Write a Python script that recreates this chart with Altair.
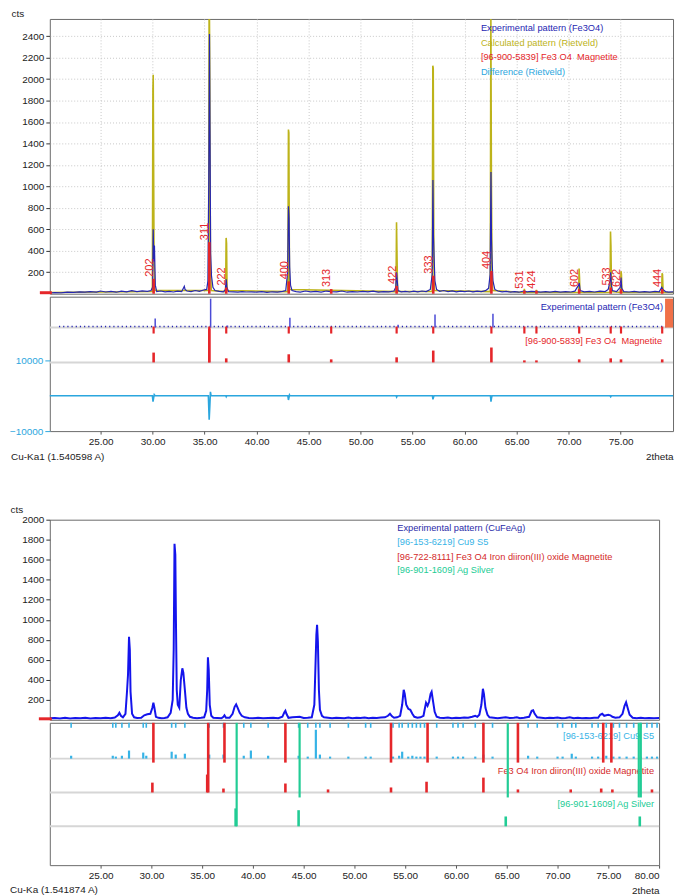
import altair as alt
import pandas as pd

# ---------------- data ----------------
# Top: Fe3O4 Rietveld refinement
TOP_EXP_X = [20.12, 20.6, 21.2, 21.8, 22.4, 23.0, 23.5, 24.0, 24.6, 25.0, 25.5, 26.0, 26.5, 27.0, 27.5, 28.0, 28.5, 29.0, 29.5, 29.85,
             30.0, 30.06, 30.12, 30.18, 30.26, 30.4, 30.8, 31.2, 31.6, 32.0, 32.4, 32.8, 33.05, 33.12, 33.3, 33.7, 34.1, 34.5, 34.9, 35.2,
             35.32, 35.40, 35.47, 35.52, 35.58, 35.66, 35.8, 36.0, 36.4, 36.8, 37.0, 37.08, 37.14, 37.3, 37.8, 38.2, 38.6, 39.0, 39.5, 40.0,
             40.5, 41.0, 41.5, 42.0, 42.5, 42.8, 42.98, 43.06, 43.12, 43.18, 43.26, 43.4, 43.8, 44.2, 44.7, 45.2, 45.7, 46.2, 46.7, 47.2,
             47.7, 48.2, 48.7, 49.2, 49.7, 50.2, 50.7, 51.2, 51.7, 52.2, 52.7, 53.2, 53.38, 53.45, 53.52, 53.6, 53.9, 54.3, 54.7, 55.1,
             55.5, 55.9, 56.3, 56.7, 56.88, 56.95, 57.0, 57.06, 57.14, 57.3, 57.6, 58.0, 58.4, 58.8, 59.2, 59.6, 60.0, 60.4, 60.8, 61.2,
             61.6, 62.0, 62.3, 62.45, 62.53, 62.58, 62.64, 62.72, 62.9, 63.2, 63.6, 64.0, 64.4, 64.8, 65.2, 65.7, 66.0, 66.4, 66.9, 67.3,
             67.8, 68.2, 68.7, 69.2, 69.7, 70.2, 70.6, 70.95, 71.02, 71.1, 71.5, 72.0, 72.5, 73.0, 73.5, 73.8, 73.98, 74.04, 74.1, 74.2,
             74.6, 74.95, 75.03, 75.1, 75.3, 75.8, 76.3, 76.8, 77.3, 77.8, 78.3, 78.7, 78.95, 79.05, 79.3, 79.6, 80.03]
TOP_EXP_Y = [5, 10, 8, 15, 12, 18, 14, 20, 15, 25, 16, 22, 14, 24, 18, 28, 20, 26, 22, 30,
             60, 600, 300, 450, 80, 20, 25, 18, 22, 16, 24, 20, 70, 40, 25, 20, 30, 22, 35, 40,
             120, 1050, 2420, 1500, 380, 170, 60, 30, 22, 18, 40, 135, 60, 20, 18, 14, 20, 16, 18, 14,
             20, 12, 18, 14, 22, 30, 200, 815, 700, 250, 80, 30, 20, 15, 25, 18, 22, 15, 25, 20,
             18, 25, 14, 20, 16, 22, 18, 24, 15, 20, 18, 25, 60, 200, 120, 30, 18, 22, 16, 24,
             18, 25, 20, 40, 180, 1060, 535, 350, 120, 40, 22, 30, 20, 26, 18, 24, 20, 25, 18, 24,
             20, 28, 50, 180, 1135, 505, 300, 120, 40, 25, 18, 22, 15, 20, 14, 25, 18, 22, 20, 14,
             20, 15, 22, 14, 20, 16, 24, 80, 100, 30, 18, 22, 16, 24, 20, 40, 120, 200, 80, 30,
             20, 60, 150, 50, 20, 16, 22, 14, 20, 15, 22, 18, 60, 40, 20, 15, 18]

TOP_CALC_X = [20.12, 29.98, 30.03, 30.06, 30.1, 30.14, 30.22, 35.38, 35.44, 35.5, 35.56, 35.64,
              37.02, 37.07, 37.11, 37.16, 43.0, 43.06, 43.1, 43.16, 53.4, 53.45, 53.49, 53.55,
              56.88, 56.94, 56.98, 57.04, 57.1, 62.46, 62.52, 62.57, 62.63, 62.7, 65.7, 65.74, 65.78,
              66.86, 66.9, 66.94, 70.96, 71.0, 71.04, 71.08, 73.98, 74.02, 74.06, 74.12,
              74.98, 75.03, 75.07, 75.12, 78.94, 78.98, 79.02, 79.08, 80.03]
TOP_CALC_Y = [12, 20, 1900, 2040, 1200, 300, 30, 30, 3000, 2000, 300, 30,
              20, 520, 470, 30, 20, 1530, 1500, 40, 20, 665, 400, 20,
              20, 2125, 2100, 300, 30, 20, 2600, 1100, 200, 30, 12, 45, 12,
              12, 35, 12, 12, 235, 150, 12, 12, 580, 450, 20,
              12, 210, 180, 12, 12, 190, 180, 12, 12]

DIFF_X = [20.12, 29.98, 30.04, 30.1, 30.16, 30.24, 35.36, 35.44, 35.5, 35.56, 35.62, 37.03, 37.08, 37.13,
          43.0, 43.06, 43.12, 43.16, 43.2, 53.4, 53.46, 53.52, 56.9, 56.95, 57.0, 57.05,
          62.48, 62.53, 62.58, 62.63, 73.98, 74.04, 74.1, 80.03]
DIFF_Y = [0, 0, -1700, -600, 300, 0, 0, -6800, -3000, 1100, 0, 0, -300, 0,
          0, -1200, -400, 200, 0, 0, -400, 0, 0, -1000, -500, 0,
          0, -1700, -700, 0, 0, -300, 0, 0]

FE_TOP_POS = [30.10, 35.45, 37.08, 43.09, 47.17, 53.46, 56.98, 62.57, 65.74, 66.90, 71.01, 74.04, 75.03, 78.99]
FE_TOP_REL = [29, 100, 12, 24, 9, 15, 35, 44, 6, 6, 9, 12, 9, 9]
FE_TOP_HKL = ["202", "311", "222", "400", "313", "422", "333", "404", "531", "424", "602", "533", "622", "444"]

EXP_PEAK_POS = [30.25, 35.58, 37.2, 43.2, 53.6, 57.15, 62.72]
EXP_PEAK_REL = [31, 100, 7, 34, 10, 45, 48]

# Bottom: CuFeAg sample
BOT_EXP_X = [20.0, 20.5, 21.0, 21.5, 22.0, 22.5, 23.0, 23.5, 24.0, 24.5,
             25.0, 25.5, 26.0, 26.4, 26.7, 26.85, 27.0, 27.2, 27.45, 27.6,
             27.7, 27.8, 27.88, 27.95, 28.1, 28.3, 28.6, 29.0, 29.3, 29.6,
             29.9, 30.1, 30.2, 30.3, 30.45, 30.7, 31.0, 31.3, 31.6, 31.9,
             32.1, 32.2, 32.28, 32.36, 32.42, 32.5, 32.6, 32.75, 32.9, 33.05,
             33.15, 33.3, 33.45, 33.6, 33.8, 34.1, 34.5, 34.9, 35.2, 35.4,
             35.5, 35.57, 35.65, 35.75, 35.9, 36.1, 36.5, 36.9, 37.1, 37.2,
             37.35, 37.7, 38.0, 38.2, 38.35, 38.5, 38.7, 38.9, 39.2, 39.6,
             40.0, 40.5, 41.0, 41.5, 42.0, 42.5, 42.9, 43.1, 43.2, 43.3,
             43.5, 43.9, 44.3, 44.6, 45.0, 45.4, 45.8, 46.05, 46.15, 46.25,
             46.32, 46.4, 46.5, 46.6, 46.8, 47.0, 47.4, 47.8, 48.2, 48.6,
             49.0, 49.4, 49.8, 50.2, 50.6, 51.0, 51.4, 51.8, 52.2, 52.6,
             53.0, 53.3, 53.5, 53.7, 53.9, 54.2, 54.5, 54.7, 54.85, 54.95,
             55.1, 55.3, 55.5, 55.7, 55.9, 56.2, 56.5, 56.8, 56.95, 57.05,
             57.2, 57.35, 57.5, 57.6, 57.75, 57.9, 58.1, 58.4, 58.8, 59.2,
             59.6, 60.0, 60.4, 60.8, 61.2, 61.6, 61.9, 62.1, 62.3, 62.5,
             62.65, 62.75, 62.9, 63.1, 63.3, 63.7, 64.1, 64.5, 64.9, 65.3,
             65.7, 66.0, 66.3, 66.7, 67.2, 67.45, 67.6, 67.75, 68.0, 68.4,
             68.8, 69.2, 69.6, 70.0, 70.4, 70.8, 71.2, 71.6, 72.0, 72.4,
             72.8, 73.2, 73.6, 74.0, 74.2, 74.4, 74.6, 74.8, 75.0, 75.2,
             75.4, 75.7, 76.1, 76.4, 76.6, 76.75, 76.9, 77.1, 77.4, 77.8,
             78.2, 78.6, 79.0, 79.5, 80.0]
BOT_EXP_Y = [15, 18, 12, 20, 14, 18, 15, 20, 14, 18,
             16, 20, 15, 22, 45, 70, 40, 25, 60, 280,
             450, 830, 700, 280, 60, 25, 18, 20, 45, 55,
             60, 120, 170, 120, 30, 20, 15, 18, 25, 70,
             200, 700, 1760, 1650, 1000, 300, 150, 120, 400, 515,
             470, 300, 120, 60, 30, 20, 15, 20, 25, 90,
             300, 625, 500, 150, 40, 20, 18, 15, 30, 45,
             20, 20, 60, 130, 155, 120, 70, 40, 25, 18,
             15, 20, 15, 18, 20, 15, 30, 75, 90, 60,
             20, 25, 28, 30, 18, 20, 25, 150, 500, 850,
             950, 780, 300, 100, 40, 25, 20, 15, 20, 18,
             15, 22, 15, 20, 18, 22, 15, 20, 18, 22,
             25, 40, 60, 35, 20, 25, 40, 150, 300, 260,
             150, 110, 100, 60, 30, 20, 25, 40, 120, 170,
             140, 180, 260, 280, 180, 80, 30, 20, 18, 22,
             15, 20, 18, 22, 20, 30, 40, 30, 50, 150,
             310, 260, 120, 50, 25, 20, 15, 20, 25, 18,
             20, 25, 15, 20, 30, 90, 95, 60, 25, 20,
             15, 20, 18, 22, 15, 18, 25, 15, 20, 15,
             18, 15, 20, 20, 50, 60, 40, 45, 50, 45,
             30, 20, 25, 60, 140, 175, 120, 50, 20, 15,
             20, 15, 18, 15, 18]

CU_POS = [22.1, 26.2, 26.5, 27.1, 27.8, 29.2, 29.5, 32.0, 32.4, 33.3,
          35.7, 37.1, 39.1, 39.8, 41.5, 44.5, 45.4, 46.2, 46.6, 47.6,
          49.4, 51.1, 51.6, 53.8, 54.4, 54.7, 55.3, 55.7, 56.1, 56.5,
          56.9, 58.1, 59.7, 60.2, 60.7, 61.9, 62.7, 63.6, 67.1, 68.0,
          70.0, 70.5, 71.4, 71.8, 73.4, 74.0, 74.8, 75.5, 76.1, 76.8,
          77.5, 78.2, 78.8, 79.3, 79.8]
CU_REL = [10, 10, 7, 10, 28, 21, 10, 24, 14, 17,
          14, 14, 10, 28, 10, 10, 7, 100, 14, 7,
          7, 7, 7, 7, 10, 24, 7, 10, 7, 7,
          7, 7, 7, 7, 7, 7, 14, 7, 10, 7,
          7, 7, 17, 7, 7, 7, 10, 7, 7, 7,
          7, 7, 7, 7, 7]

FE_BOT_POS = [30.1, 35.5, 37.1, 43.2, 47.4, 53.6, 57.1, 62.7, 66.1, 71.3, 74.3, 75.4, 79.3]
FE_BOT_REL = [55, 100, 22, 50, 17, 28, 60, 83, 17, 17, 22, 17, 17]
FE_DROP_POS = [30.2, 35.6, 37.2, 43.2, 53.6, 57.2, 62.7, 66.1, 74.5, 75.3]
FE_DROP_REL = [55, 100, 22, 50, 28, 60, 83, 17, 22, 17]

AG_POS = [38.3, 44.5, 64.9, 78.1]
AG_REL = [100, 90, 55, 55]
AG_DROP_POS = [38.4, 44.6, 65.1, 78.0, 78.2]
AG_DROP_REL = [100, 90, 55, 55, 55]

# ---------------- style / layout ----------------
FONT = "Liberation Sans"
C_EXP = "#2626b2"
C_CALC = "#bdb31a"
C_RED = "#e5262a"
C_DIFF = "#2ba6de"
C_EXP2 = "#1414ec"
C_CU = "#36b3e6"
C_AG = "#22cc95"
C_GRAY = "#d6d6d6"
C_GRID = "#c8c8c8"
C_FRAME = "#6a6a6a"
C_ORANGE = "#f07048"
LEG = 9.3

TOP_W, TOP_MAIN_H, TOP_LOW_H = 626, 276, 135
TOP_XDOM = [20.12, 80.03]
TOP_YMAX = 2560
T_EXP_BASE, T_FE_BASE = 104, 69

BOT_W, BOT_MAIN_H, BOT_LOW_H = 612, 201, 143
BOT_XDOM = [20.0, 80.0]
B_CU_BASE, B_FE_BASE, B_AG_BASE = 107, 73, 39


def xs(dom):
    return alt.Scale(domain=dom, nice=False, zero=False)


def text(x, y, s, color, align="left", size=LEG):
    return alt.Chart(pd.DataFrame({"t": [s]})).mark_text(
        align=align, baseline="middle", font=FONT, fontSize=size, color=color
    ).encode(x=alt.value(x), y=alt.value(y), text="t:N")


# ================= TOP =================
ax_top_main = alt.Axis(values=list(range(25, 80, 5)), grid=True, gridDash=[1, 2], gridColor=C_GRID,
                       labels=False, ticks=False, domain=False, title=None)
ay_top_main = alt.Axis(values=list(range(200, 2401, 200)), format="d", grid=True, gridDash=[1, 2],
                       gridColor=C_GRID, tickSize=4, tickColor="#333", domain=False, labelPadding=2, title="cts",
                       titleAngle=0, titleX=-39, titleY=-5, titleAlign="left", titleBaseline="middle",
                       titleFontWeight="normal", titleFontSize=10)
ys_top = alt.Scale(domain=[0, TOP_YMAX], nice=False, zero=False)

df_calc = pd.DataFrame({"x": TOP_CALC_X, "y": TOP_CALC_Y})
df_exp = pd.DataFrame({"x": TOP_EXP_X, "y": TOP_EXP_Y})
df_fe_top = pd.DataFrame({"x": FE_TOP_POS, "rel": FE_TOP_REL, "hkl": FE_TOP_HKL})
df_fe_top["h"] = df_fe_top["rel"] * 4.8
df_fe_top["z"] = 0

calc_line = alt.Chart(df_calc).mark_line(color=C_CALC, strokeWidth=1.6, clip=True).encode(
    x=alt.X("x:Q", scale=xs(TOP_XDOM), axis=ax_top_main), y=alt.Y("y:Q", scale=ys_top, axis=ay_top_main))
exp_line = alt.Chart(df_exp).mark_line(color=C_EXP, strokeWidth=1.2, clip=True).encode(
    x=alt.X("x:Q", scale=xs(TOP_XDOM), axis=ax_top_main), y=alt.Y("y:Q", scale=ys_top, axis=ay_top_main))
fe_sticks = alt.Chart(df_fe_top).mark_rule(color=C_RED, strokeWidth=2.6).encode(
    x=alt.X("x:Q", scale=xs(TOP_XDOM), axis=ax_top_main),
    y=alt.Y("z:Q", scale=ys_top, axis=ay_top_main), y2="h:Q")
hkl = alt.Chart(df_fe_top).mark_text(angle=270, align="left", baseline="middle", dx=2, dy=-4,
                                     color=C_RED, font=FONT, fontSize=11).encode(
    x=alt.X("x:Q", scale=xs(TOP_XDOM), axis=ax_top_main),
    y=alt.Y("h:Q", scale=ys_top, axis=ay_top_main), text="hkl:N")
left_mark_top = alt.Chart(pd.DataFrame({"a": [0]})).mark_rule(color=C_RED, strokeWidth=3).encode(
    x=alt.value(-10), x2=alt.value(2), y=alt.value(TOP_MAIN_H - 1))

top_main = alt.layer(
    calc_line, exp_line, fe_sticks, hkl, left_mark_top,
    text(433, 9, "Experimental pattern (Fe3O4)", C_EXP),
    text(433, 24, "Calculated pattern (Rietveld)", C_CALC),
    text(433, 38, "[96-900-5839] Fe3 O4\u00a0 Magnetite", C_RED),
    text(433, 53, "Difference (Rietveld)", C_DIFF),
).properties(width=TOP_W, height=TOP_MAIN_H)

# lower strips of top chart
ax_top_low = alt.Axis(values=list(range(25, 80, 5)), format=".2f", grid=False, tickSize=3, tickColor="#555",
                      domain=False, labelPadding=2, title="2theta", titleX=TOP_W, titleY=26,
                      titleAlign="right", titleBaseline="middle", titleFontWeight="normal", titleFontSize=10)
px_top = alt.Scale(domain=[0, TOP_LOW_H], nice=False, zero=False)
XT = alt.X("x:Q", scale=xs(TOP_XDOM), axis=ax_top_low)

gray_top = alt.Chart(pd.DataFrame({"y": [T_EXP_BASE, T_FE_BASE]})).mark_rule(color=C_GRAY, strokeWidth=2).encode(
    y=alt.Y("y:Q", scale=px_top, axis=None), x=alt.value(0), x2=alt.value(TOP_W))
dotted = alt.Chart(pd.DataFrame({"x": [21.0], "x2": [79.6], "y": [T_EXP_BASE + 1]})).mark_rule(
    color=C_EXP, strokeDash=[1.2, 3], strokeWidth=1.4).encode(
    x=XT, x2="x2:Q", y=alt.Y("y:Q", scale=px_top, axis=None))

df_pk = pd.DataFrame({"x": EXP_PEAK_POS, "rel": EXP_PEAK_REL})
df_pk["b"] = T_EXP_BASE
df_pk["t"] = T_EXP_BASE + df_pk["rel"] * 0.29
blue_sticks = alt.Chart(df_pk).mark_rule(color="#4a4ad6", strokeWidth=1.5).encode(
    x=XT, y=alt.Y("b:Q", scale=px_top, axis=None), y2="t:Q")

df_fd = pd.DataFrame({"x": FE_TOP_POS, "rel": FE_TOP_REL})
df_fd["b"] = T_EXP_BASE + 1
df_fd["e"] = [T_FE_BASE if r == 100 else T_EXP_BASE - 6 for r in FE_TOP_REL]
df_fd["s0"] = T_FE_BASE
df_fd["s1"] = T_FE_BASE + df_fd["rel"] * 0.34
red_drops = alt.Chart(df_fd).mark_rule(color=C_RED, strokeWidth=2.2).encode(
    x=XT, y=alt.Y("b:Q", scale=px_top, axis=None), y2="e:Q")
red_sticks = alt.Chart(df_fd).mark_rule(color=C_RED, strokeWidth=2.6).encode(
    x=XT, y=alt.Y("s0:Q", scale=px_top, axis=None), y2="s1:Q")

orange = alt.Chart(pd.DataFrame({"a": [0]})).mark_rect(color=C_ORANGE).encode(
    x=alt.value(TOP_W - 8), x2=alt.value(TOP_W), y=alt.value(2), y2=alt.value(31))

df_diff = pd.DataFrame({"x": DIFF_X, "d": DIFF_Y})
diff_line = alt.Chart(df_diff).mark_line(color=C_DIFF, strokeWidth=1.6).encode(
    x=XT, y=alt.Y("d:Q", scale=alt.Scale(domain=[-10000, 28000], nice=False, zero=False),
                  axis=alt.Axis(values=[-10000, 10000], format="d", labelColor=C_DIFF, tickColor=C_DIFF,
                                tickSize=5, domain=False, grid=False, title=None, labelPadding=2)))

top_low = alt.layer(
    gray_top, dotted,
    text(TOP_W - 10, 10, "Experimental pattern (Fe3O4)", C_EXP, align="right"),
    text(TOP_W - 11, 45, "[96-900-5839] Fe3 O4\u00a0 Magnetite", C_RED, align="right"),
    orange, blue_sticks, red_drops, red_sticks, diff_line,
    text(-39, TOP_LOW_H + 26, "Cu-Ka1 (1.540598 A)", "#222", size=10),
).resolve_scale(y="independent").properties(width=TOP_W, height=TOP_LOW_H)

top = alt.vconcat(top_main, top_low, spacing=0)

# ================= BOTTOM =================
ax_bot_main = alt.Axis(values=list(range(25, 81, 5)), grid=False, labels=False, ticks=False, domain=False, title=None)
ay_bot_main = alt.Axis(values=list(range(200, 2001, 200)), format="d", grid=False, tickSize=4, tickColor="#333",
                       domain=False, labelPadding=2, title="cts", titleAngle=0, titleX=-40, titleY=-10,
                       titleAlign="left", titleBaseline="middle", titleFontWeight="normal", titleFontSize=10)

df_bexp = pd.DataFrame({"x": BOT_EXP_X, "y": BOT_EXP_Y})
bexp_line = alt.Chart(df_bexp).mark_line(color=C_EXP2, strokeWidth=2, clip=True).encode(
    x=alt.X("x:Q", scale=xs(BOT_XDOM), axis=ax_bot_main),
    y=alt.Y("y:Q", scale=alt.Scale(domain=[0, 2000], nice=False, zero=False), axis=ay_bot_main))
left_mark_bot = alt.Chart(pd.DataFrame({"a": [0]})).mark_rule(color=C_RED, strokeWidth=3).encode(
    x=alt.value(-11), x2=alt.value(2), y=alt.value(BOT_MAIN_H - 1))

bot_main = alt.layer(
    bexp_line, left_mark_bot,
    text(349, 8, "Experimental pattern (CuFeAg)", "#2a2aa8"),
    text(349, 22, "[96-153-6219] Cu9 S5", C_CU),
    text(349, 37, "[96-722-8111] Fe3 O4 Iron diiron(III) oxide Magnetite", "#d42a2a"),
    text(349, 51, "[96-901-1609] Ag Silver", C_AG),
).properties(width=BOT_W, height=BOT_MAIN_H)

ax_bot_low = alt.Axis(values=list(range(25, 81, 5)), format=".2f", grid=False, tickSize=3, tickColor="#555",
                      domain=False, labelPadding=2, title="2theta", titleX=BOT_W, titleY=25,
                      titleAlign="right", titleBaseline="middle", titleFontWeight="normal", titleFontSize=10)
px_bot = alt.Scale(domain=[0, BOT_LOW_H], nice=False, zero=False)
XB = alt.X("x:Q", scale=xs(BOT_XDOM), axis=ax_bot_low)


def sticks(pos, rel, base, scale_px, color, width):
    d = pd.DataFrame({"x": pos, "rel": rel})
    d["b"] = base
    d["t"] = base + d["rel"] * scale_px
    return alt.Chart(d).mark_rule(color=color, strokeWidth=width).encode(
        x=XB, y=alt.Y("b:Q", scale=px_bot, axis=None), y2="t:Q")


def drops(pos, rel, ends, color, width):
    d = pd.DataFrame({"x": pos, "rel": rel})
    d["b"] = BOT_LOW_H
    d["e"] = ends
    return alt.Chart(d).mark_rule(color=color, strokeWidth=width).encode(
        x=XB, y=alt.Y("b:Q", scale=px_bot, axis=None), y2="e:Q")


gray_bot = alt.Chart(pd.DataFrame({"y": [B_CU_BASE, B_FE_BASE, B_AG_BASE]})).mark_rule(
    color=C_GRAY, strokeWidth=2).encode(y=alt.Y("y:Q", scale=px_bot, axis=None), x=alt.value(0), x2=alt.value(BOT_W))

cu_drop = drops(CU_POS, CU_REL, [BOT_LOW_H - 5] * len(CU_POS), C_CU, 1.6)
cu_st = sticks(CU_POS, CU_REL, B_CU_BASE, 0.29, C_CU, 2.2)
fe_st = sticks(FE_BOT_POS, FE_BOT_REL, B_FE_BASE, 0.18, C_RED, 2.6)
fe_drop = drops(FE_DROP_POS, FE_DROP_REL,
                [B_FE_BASE if r == 100 else B_CU_BASE - 4 for r in FE_DROP_REL], C_RED, 2.6)
ag_st = sticks(AG_POS, AG_REL, B_AG_BASE, 0.18, C_AG, 2.6)
ag_drop = drops(AG_DROP_POS, AG_DROP_REL,
                [B_AG_BASE if r == 100 else B_FE_BASE - 5 for r in AG_DROP_REL], C_AG, 2.2)

bot_low = alt.layer(
    gray_bot,
    text(BOT_W - 5, 13, "[96-153-6219] Cu9 S5", C_CU, align="right"),
    text(BOT_W - 5, 48, "Fe3 O4 Iron diiron(III) oxide Magnetite", "#d42a2a", align="right"),
    text(BOT_W - 5, 82, "[96-901-1609] Ag Silver", C_AG, align="right"),
    cu_drop, cu_st, fe_st, fe_drop, ag_st, ag_drop,
    text(-40, BOT_LOW_H + 25, "Cu-Ka (1.541874 A)", "#222", size=10),
).properties(width=BOT_W, height=BOT_LOW_H)

bot = alt.vconcat(bot_main, bot_low, spacing=0)

chart = alt.vconcat(top, bot, spacing=41).properties(
    padding={"left": 0, "top": -2, "right": 0, "bottom": 0}
).configure(font=FONT).configure_view(stroke=C_FRAME, strokeWidth=1).configure_axis(
    labelFont=FONT, titleFont=FONT, labelFontSize=10, labelColor="#222", titleColor="#222")

chart.save("out.html", embed_options={"renderer": "svg", "actions": False})
